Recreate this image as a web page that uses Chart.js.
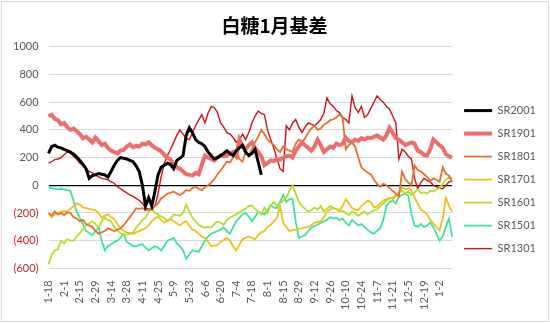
<!DOCTYPE html>
<html>
<head>
<meta charset="utf-8">
<script src="https://cdn.jsdelivr.net/npm/chart.js@4/dist/chart.umd.min.js"></script>
<style>
  html, body { margin: 0; padding: 0; background: #fff; }
  #wrap { position: relative; width: 550px; height: 323px; }
  #frame { position: absolute; left: 1px; top: 1px; width: 546px; height: 319px; border: 1px solid #d9d9d9; pointer-events: none; }
</style>
</head>
<body>
<div id="wrap">
  <canvas id="basis" width="550" height="323"></canvas>
  <div id="frame"></div>
</div>
<script>
// x axis: one point every two trading days, a tick label every fifth point
var tickLabels = ['1-18', '2-1', '2-15', '2-29', '3-14', '3-28', '4-11', '4-25', '5-9', '5-23',
  '6-6', '6-20', '7-4', '7-18', '8-1', '8-15', '8-29', '9-12', '9-26', '10-10',
  '10-24', '11-7', '11-21', '12-5', '12-19', '1-2'];
var pointCount = 130;
var labelEvery = 5;

var seriesNames = ['SR2001', 'SR1901', 'SR1801', 'SR1701', 'SR1601', 'SR1501', 'SR1301'];
var seriesColors = ['#000000', '#f26b6b', '#e8702a', '#efc019', '#b2df2a', '#3fe49a', '#d0101a'];
var seriesWidths = [3, 4, 1.8, 1.8, 1.8, 1.8, 1.4];

var sr2001 = [230, 280, 290, 275, 270, 260, 250, 240, 225, 205,
  180, 150, 120, 50, 70, 75, 85, 80, 75, 60,
  100, 145, 180, 200, 195, 190, 180, 170, 140, 100,
  0, -150, -90, -150, -45, 75, 130, 145, 160, 150,
  120, 180, 195, 215, 360, 415, 380, 330, 310, 300,
  280, 240, 215, 190, 200, 215, 230, 250, 230, 215,
  250, 270, 290, 240, 215, 230, 260, 170, 75];

var sr1901 = [500, 510, 480, 470, 440, 450, 420, 400, 410, 390,
  370, 340, 350, 330, 310, 345, 320, 290, 300, 270,
  250, 240, 230, 250, 255, 280, 295, 275, 285, 280,
  300, 295, 310, 290, 270, 260, 245, 220, 200, 185,
  150, 130, 120, 100, 80, 75, 70, 90, 80, 150,
  215, 200, 190, 180, 200, 215, 210, 215, 230, 240,
  210, 330, 280, 260, 290, 310, 270, 240, 210, 145,
  160, 180, 175, 190, 185, 200, 210, 215, 200, 250,
  280, 310, 290, 270, 250, 280, 330, 290, 240, 260,
  280, 270, 300, 290, 300, 345, 320, 310, 330, 320,
  340, 330, 345, 340, 350, 360, 345, 330, 360, 415,
  380, 340, 330, 310, 290, 300, 310, 300, 250, 240,
  220, 215, 260, 330, 310, 290, 270, 225, 210, 200];

var sr1801 = [-200, -220, -190, -210, -200, -215, -195, -200, -230, -240,
  -260, -250, -280, -290, -300, -330, -350, -340, -330, -310,
  -320, -330, -320, -310, -290, -260, -230, -200, -165, -170,
  -165, -175, -180, -170, -150, -130, -95, -80, -60, -55,
  -45, -60, -70, -55, -35, -40, -20, -10, -25, -35,
  -15, 0, 20, 45, 80, 105, 140, 170, 165, 200,
  240, 190, 170, 240, 215, 260, 310, 350, 400, 370,
  330, 310, 290, 260, 240, 280, 260, 250, 240, 300,
  330, 310, 340, 380, 410, 430, 400, 410, 440, 450,
  470, 475, 490, 510, 490, 260, 290, 310, 280, 200,
  130, 110, 90, 80, 40, 10, -10, 10, 0, -20,
  -40, -60, -80, 100, 45, 20, 0, 145, 110, 100,
  80, 60, 30, 50, 40, 25, 130, 85, 70, 25];

var sr1701 = [-200, -230, -210, -200, -190, -185, -190, -170, -150, -130,
  -140, -160, -165, -170, -175, -180, -200, -235, -220, -210,
  -230, -245, -280, -310, -330, -340, -345, -350, -340, -330,
  -320, -310, -290, -260, -240, -225, -250, -270, -255, -245,
  -260, -275, -290, -270, -260, -290, -320, -330, -350, -370,
  -380, -410, -440, -435, -430, -410, -395, -380, -400, -440,
  -470, -430, -390, -380, -370, -380, -390, -360, -340, -330,
  -300, -285, -260, -235, -150, -270, -300, -330, -325, -320,
  -315, -310, -305, -300, -290, -270, -265, -260, -230, -190,
  -175, -165, -170, -180, -150, -100, -130, -165, -175, -180,
  -150, -130, -110, -120, -160, -155, -130, -110, -100, -90,
  -100, -80, -50, -15, -30, -20, -40, -90, -130, -175,
  -190, -210, -250, -275, -300, -325, -240, -90, -150, -190];

var sr1601 = [-570, -500, -470, -460, -400, -420, -390, -400, -400, -370,
  -345, -320, -290, -275, -260, -280, -305, -260, -235, -250,
  -260, -300, -330, -345, -360, -355, -350, -340, -305, -280,
  -250, -235, -190, -165, -200, -210, -225, -235, -260, -240,
  -210, -215, -220, -200, -140, -190, -235, -260, -285, -300,
  -305, -300, -305, -280, -260, -270, -285, -250, -235, -220,
  -210, -195, -180, -170, -150, -145, -170, -190, -210, -160,
  -200, -145, -120, -150, -130, -110, -90, -40, 0, -60,
  -120, -150, -170, -190, -180, -160, -175, -150, -190, -170,
  -150, -160, -175, -190, -185, -200, -215, -190, -200, -220,
  -205, -190, -210, -195, -180, -175, -150, -130, -110, -95,
  -90, -70, -50, -40, -60, -45, -70, -50, -30, -55,
  -50, -60, -40, -45, -30, -20, 10, 40, 60, 50];

var sr1501 = [-10, -20, -25, -30, -25, -30, -35, -40, -115, -190,
  -235, -280, -330, -345, -360, -330, -305, -400, -470, -440,
  -425, -410, -400, -380, -350, -410, -420, -440, -440, -430,
  -425, -450, -470, -455, -440, -450, -470, -440, -400, -390,
  -380, -420, -440, -470, -530, -500, -470, -475, -480, -440,
  -400, -370, -350, -340, -330, -320, -305, -330, -350, -300,
  -260, -235, -210, -200, -225, -260, -230, -190, -200, -210,
  -180, -145, -160, -165, -120, -70, -120, -100, -100, -260,
  -380, -370, -360, -330, -305, -295, -285, -270, -260, -250,
  -230, -240, -235, -250, -240, -270, -290, -250, -270, -290,
  -280, -300, -320, -340, -350, -330, -310, -250, -150, -120,
  -110, -130, -80, -70, -60, -75, -210, -290, -300, -280,
  -300, -290, -270, -300, -350, -400, -370, -300, -240, -370];

var sr1301 = [160, 170, 185, 190, 200, 220, 240, 235, 210, 190,
  160, 145, 120, 100, 90, 75, 60, 50, 45, 40,
  25, 15, -10, -25, -40, -55, -70, -80, -95, -110,
  -130, -165, -170, -175, -150, -60, 60, 160, 215, 260,
  310, 360, 400, 370, 340, 330, 380, 430, 470, 510,
  450, 520, 570, 560, 525, 450, 420, 380, 370, 345,
  310, 330, 370, 330, 380, 450, 500, 535, 520, 510,
  400, 330, 270, 190, 120, 100, 430, 400, 450, 475,
  420, 380, 420, 450, 440, 430, 450, 475, 520, 630,
  590, 570, 540, 525, 490, 475, 450, 645, 560, 525,
  570, 490, 510, 555, 600, 645, 620, 600, 570, 550,
  500, 450, 190, 260, 240, 210, 190, 50, -25, 20,
  50, 35, 25, 0, -10, -20, -25, 0, 25, 30];

var seriesData = [sr2001, sr1901, sr1801, sr1701, sr1601, sr1501, sr1301];

var categories = [];
for (var i = 0; i < pointCount; i++) {
  categories.push(i % labelEvery === 0 ? tickLabels[i / labelEvery] : '');
}

var datasets = seriesNames.map(function (name, k) {
  return {
    label: name,
    data: seriesData[k],
    borderColor: seriesColors[k],
    backgroundColor: seriesColors[k],
    borderWidth: seriesWidths[k],
    pointRadius: 0,
    tension: 0,
    fill: false
  };
});

Chart.defaults.font.family = 'Lato, "Liberation Sans", sans-serif';
Chart.defaults.color = '#595959';

var ctx = document.getElementById('basis');
var chart = new Chart(ctx, {
  type: 'line',
  data: { labels: categories, datasets: datasets },
  options: {
    responsive: false,
    animation: false,
    layout: { padding: { left: 3, right: 4, top: 4, bottom: 9 } },
    plugins: {
      title: {
        display: true,
        text: '白糖1月基差',
        color: '#000',
        font: { family: '"Noto Sans CJK SC"', size: 19, weight: 'bold' },
        padding: { top: 10, bottom: 10 }
      },
      legend: {
        position: 'right',
        // blank legend title only pushes the entries down a little
        title: { display: true, text: ' ', font: { size: 11 }, padding: { top: 0, bottom: 28 } },
        labels: {
          usePointStyle: true,
          pointStyle: 'line',
          pointStyleWidth: 28,
          padding: 12,
          color: '#595959',
          font: { size: 11 }
        }
      },
      tooltip: { enabled: false }
    },
    scales: {
      x: {
        offset: false,
        grid: { display: false },
        border: { display: false },
        ticks: {
          autoSkip: false,
          minRotation: 90,
          maxRotation: 90,
          padding: 4,
          color: '#595959',
          font: { size: 11 }
        }
      },
      y: {
        min: -600,
        max: 1000,
        border: { display: false },
        grid: {
          drawTicks: false,
          color: function (c) { return c.tick.value === 0 ? '#000000' : '#d9d9d9'; },
          lineWidth: function (c) { return c.tick.value === 0 ? 1.3 : 1; }
        },
        ticks: {
          stepSize: 200,
          padding: 10,
          font: { size: 11 },
          color: function (c) { return c.tick.value < 0 ? '#c0282d' : '#595959'; },
          callback: function (v) { return v < 0 ? '(' + Math.abs(v) + ')' : String(v); }
        }
      }
    }
  }
});
</script>
</body>
</html>
